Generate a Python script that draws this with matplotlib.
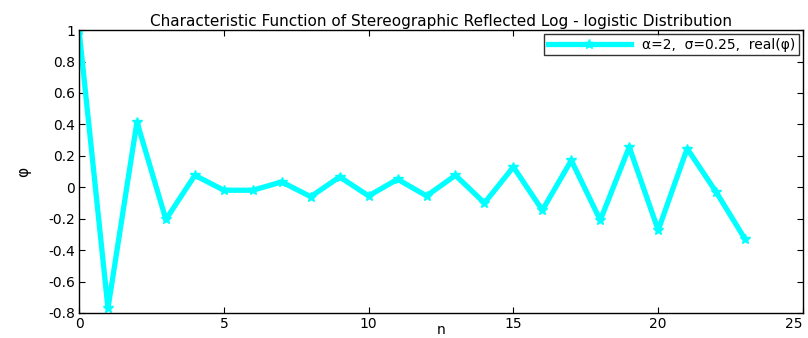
import matplotlib
matplotlib.use("Agg")
import matplotlib.pyplot as plt
import numpy as np

# data
n = np.arange(24)
phi_real = [1.0, -0.77, 0.415, -0.205, 0.076, -0.019, -0.019, 0.034,
            -0.06, 0.066, -0.055, 0.051, -0.055, 0.076, -0.10, 0.129,
            -0.146, 0.171, -0.21, 0.256, -0.273, 0.246, -0.03, -0.33]

plt.rcParams["font.family"] = ["DejaVu Sans"]

fig = plt.figure(figsize=(8.08, 3.38), dpi=100)
ax = fig.add_axes([0.0978, 0.074, 0.896, 0.837])

ax.plot(n, phi_real, color="cyan", linewidth=3.8, marker="*",
        markersize=7, label="\u03b1=2,  \u03c3=0.25,  real(\u03c6)")

ax.set_xlim(0, 25)
ax.set_ylim(-0.8, 1)
ax.set_xticks([0, 5, 10, 15, 20, 25])
ax.set_yticks(np.arange(-0.8, 1.01, 0.2))
ax.set_yticklabels(["-0.8", "-0.6", "-0.4", "-0.2", "0", "0.2", "0.4",
                    "0.6", "0.8", "1"])
ax.tick_params(direction="in", top=True, right=True, labelsize=10,
               length=4, width=0.8, pad=3)
for s in ax.spines.values():
    s.set_linewidth(1.0)

# last x tick label sits at the figure edge, keep it inside
ax.get_xticklabels()[-1].set_horizontalalignment("right")

ax.set_title("Characteristic Function of Stereographic Reflected Log - logistic Distribution",
             fontsize=11, pad=3)
ax.set_xlabel("n", fontsize=10, labelpad=-6)
ax.set_ylabel("\u03c6", fontsize=11, labelpad=12)

leg = ax.legend(loc="upper right", fontsize=10, frameon=True, fancybox=False,
                handlelength=6, borderaxespad=0.3, borderpad=0.25)
leg.get_frame().set_edgecolor("black")
leg.get_frame().set_linewidth(1.0)

fig.savefig("out.png", dpi=100)
